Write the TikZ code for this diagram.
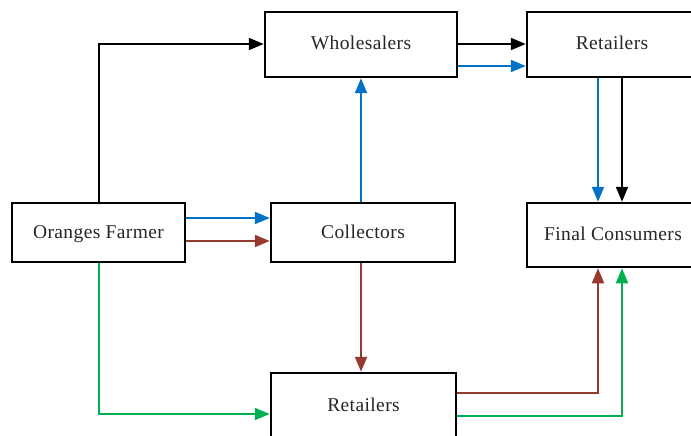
\documentclass[tikz,border=0pt]{standalone}
\usepackage{fontspec}
\setmainfont{Liberation Serif}[LetterSpace=2]
\usetikzlibrary{arrows.meta}
\definecolor{flowblue}{RGB}{0,114,198}
\definecolor{flowbrown}{RGB}{150,58,48}
\definecolor{flowgreen}{RGB}{0,176,80}
\tikzset{
  stage/.style={draw=black, line width=2.5pt, fill=white, rectangle,
    inner sep=0pt, text height=11pt, text depth=0pt,
    font=\fontsize{19.5}{22}\selectfont, text=black!85},
  flow/.style={line width=2pt, -{Triangle[length=15pt,width=12pt]}},
}
\begin{document}
\begin{tikzpicture}[x=1pt, y=-1pt]
  \useasboundingbox (0,0) rectangle (691,436);
  \clip (0,0) rectangle (691,436);
  \fill[white] (0,0) rectangle (691,436);

  % market stages
  \node[stage, minimum width=192pt, minimum height=65pt] (wh) at (361,44.5) {Wholesalers};
  \node[stage, minimum width=170pt, minimum height=65pt] (rt) at (612,44.5) {Retailers};
  \node[stage, minimum width=173pt, minimum height=59pt] (of) at (98.5,232.5) {Oranges Farmer};
  \node[stage, minimum width=184pt, minimum height=59pt] (co) at (363,232.5) {Collectors};
  \node[stage, minimum width=172pt, minimum height=64pt] (fc) at (613,235) {Final Consumers};
  \node[stage, minimum width=185pt, minimum height=66pt] (rb) at (363.5,406) {Retailers};

  % farmer to wholesalers (black)
  \draw[flow, black] (of.north -| 99,0) |- (wh.west |- 0,44);
  % wholesalers to top retailers
  \draw[flow, black] (wh.east |- 0,44) -- (rt.west |- 0,44);
  \draw[flow, flowblue] (wh.east |- 0,66) -- (rt.west |- 0,66);
  % top retailers to final consumers
  \draw[flow, flowblue] (rt.south -| 598,0) -- (fc.north -| 598,0);
  \draw[flow, black] (rt.south -| 622,0) -- (fc.north -| 622,0);
  % farmer to collectors
  \draw[flow, flowblue] (of.east |- 0,218) -- (co.west |- 0,218);
  \draw[flow, flowbrown] (of.east |- 0,241) -- (co.west |- 0,241);
  % collectors to wholesalers and bottom retailers
  \draw[flow, flowblue] (co.north -| 361,0) -- (wh.south -| 361,0);
  \draw[flow, flowbrown] (co.south -| 361,0) -- (rb.north -| 361,0);
  % farmer to bottom retailers (green)
  \draw[flow, flowgreen] (of.south -| 99,0) |- (rb.west |- 0,414);
  % bottom retailers to final consumers
  \draw[flow, flowbrown] (rb.east |- 0,393) -| (fc.south -| 598,0);
  \draw[flow, flowgreen] (rb.east |- 0,416) -| (fc.south -| 622,0);
\end{tikzpicture}
\end{document}
